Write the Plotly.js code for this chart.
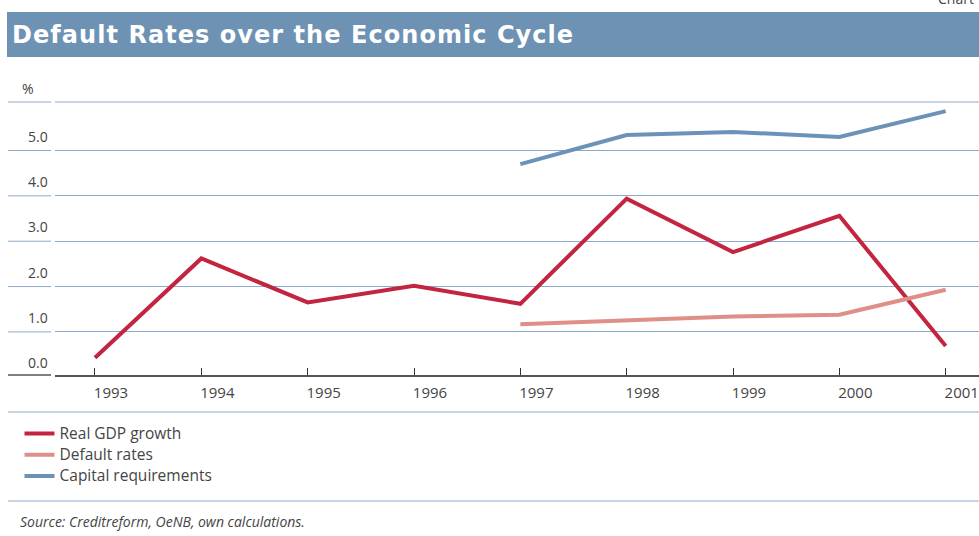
<!DOCTYPE html>
<html><head><meta charset="utf-8">
<script src="https://cdn.plot.ly/plotly-3.0.1.min.js"></script>
<style>body{margin:0;background:#fff;} #chart{width:979px;height:536px;}
.legendtext{font-size:15.5px !important;}</style>
</head><body><div id="chart"></div>
<script>
const years = [1993, 1994, 1995, 1996, 1997, 1998, 1999, 2000, 2001];
const gdpGrowth = [0.43, 2.62, 1.65, 2.02, 1.62, 3.94, 2.76, 3.56, 0.69];
const laterYears = [1997, 1998, 1999, 2000, 2001];
const defaultRates = [1.17, 1.26, 1.34, 1.38, 1.93];
const capitalRequirements = [4.70, 5.34, 5.41, 5.30, 5.87];
const yTickValues = [0, 1, 2, 3, 4, 5];
const yTickLabels = ['0.0', '1.0', '2.0', '3.0', '4.0', '5.0'];
const seriesNames = ['Real GDP growth', 'Default rates', 'Capital requirements'];
const titleText = 'Default Rates over the Economic Cycle';
const sourceText = 'Source: Creditreform, OeNB, own calculations.';

const W = 979, H = 536, L = 55, R = 0, T = 102, B = 161;
const pw = W - L - R, ph = H - T - B;
const yRange = [0.05, 6.07];
const px = x => (x - L) / pw;           // pixel x -> paper x
const py = y => (H - B - y) / ph;       // pixel y -> paper y
const vy = v => (v - yRange[0]) / (yRange[1] - yRange[0]); // value -> paper y

const gridColor = '#8eaacb';
const traces = [
  {x: years, y: gdpGrowth, name: seriesNames[0], mode: 'lines', line: {color: '#c3243f', width: 4}},
  {x: laterYears, y: defaultRates, name: seriesNames[1], mode: 'lines', line: {color: '#df8f88', width: 4}},
  {x: laterYears, y: capitalRequirements, name: seriesNames[2], mode: 'lines', line: {color: '#6c92b7', width: 4}}
];

const shapes = [
  {type: 'rect', xref: 'paper', yref: 'paper', x0: px(7), x1: 1, y0: py(57), y1: py(12), fillcolor: '#6d92b4', line: {width: 0}, layer: 'below'},
  {type: 'line', xref: 'paper', yref: 'paper', x0: 0, x1: 1, y0: 1, y1: 1, line: {color: gridColor, width: 1}},
  {type: 'line', xref: 'paper', yref: 'paper', x0: px(8), x1: px(51), y0: 1, y1: 1, line: {color: gridColor, width: 1}},
  {type: 'line', xref: 'paper', yref: 'paper', x0: px(8), x1: px(51), y0: 0, y1: 0, line: {color: '#555', width: 1.5}},
  {type: 'line', xref: 'paper', yref: 'paper', x0: px(8), x1: 1, y0: py(412), y1: py(412), line: {color: gridColor, width: 1}},
  {type: 'line', xref: 'paper', yref: 'paper', x0: px(8), x1: 1, y0: py(501), y1: py(501), line: {color: gridColor, width: 1}}
];
yTickValues.slice(1).forEach(v => shapes.push({type: 'line', xref: 'paper', yref: 'y', x0: px(8), x1: px(51), y0: v, y1: v, line: {color: gridColor, width: 1}}));

const lblFont = {family: 'Open Sans, sans-serif', size: 14, color: '#444'};
const annotations = [
  {text: '<b>' + titleText + '</b>', xref: 'paper', yref: 'paper', x: px(10), y: py(35), xanchor: 'left', yanchor: 'middle', showarrow: false,
   font: {family: 'DejaVu Sans, sans-serif', size: 24, color: '#fff'}},
  {text: 'Chart', xref: 'paper', yref: 'paper', x: px(976), y: py(-2), xanchor: 'right', yanchor: 'middle', showarrow: false, font: lblFont},
  {text: '%', xref: 'paper', yref: 'paper', x: px(28), y: 1, xanchor: 'center', yanchor: 'bottom', yshift: 2, showarrow: false, font: lblFont},
  {text: '<i>' + sourceText + '</i>', xref: 'paper', yref: 'paper', x: px(18), y: py(521), xanchor: 'left', yanchor: 'middle', showarrow: false,
   font: {family: 'Open Sans, sans-serif', size: 14, color: '#444'}}
];
yTickValues.forEach((v, i) => annotations.push({text: yTickLabels[i], xref: 'paper', yref: 'paper', x: px(50), y: vy(v), xanchor: 'right', yanchor: 'bottom', yshift: 3, showarrow: false, font: lblFont}));

const layout = {
  width: W, height: H,
  margin: {l: L, r: R, t: T, b: B},
  paper_bgcolor: '#fff', plot_bgcolor: '#fff',
  showlegend: true,
  legend: {x: px(19.5), y: py(418), xanchor: 'left', yanchor: 'top', orientation: 'v', bgcolor: 'rgba(0,0,0,0)',
           font: {family: 'Open Sans, sans-serif', size: 14, color: '#444'}, itemwidth: 30, tracegroupgap: 0},
  xaxis: {range: [1992.624, 2001.313], tickmode: 'array', tickvals: years, ticktext: years.map(String),
          ticks: 'inside', ticklen: 7, tickcolor: '#333', tickwidth: 1,
          showline: true, linecolor: '#555', linewidth: 1.5, showgrid: false, zeroline: false,
          ticklabelshift: 16, ticklabelstandoff: 3, ticklabeloverflow: 'allow',
          tickfont: {family: 'Open Sans, sans-serif', size: 15, color: '#444'}, fixedrange: true},
  yaxis: {range: yRange, tickmode: 'array', tickvals: [1, 2, 3, 4, 5], showticklabels: false,
          showgrid: true, gridcolor: gridColor, gridwidth: 1, zeroline: false, showline: false, ticks: '', fixedrange: true},
  shapes: shapes,
  annotations: annotations
};

Plotly.newPlot('chart', traces, layout, {displayModeBar: false, staticPlot: true}).then(gd => {
  gd.querySelectorAll('.annotation-text').forEach(t => {
    if (t.textContent === titleText) {
      const before = t.getBBox();
      t.style.letterSpacing = '1.05px';
      const after = t.getBBox();
      t.setAttribute('transform', 'translate(' + (before.x - after.x) + ',0)');
    }
  });
});
</script>
</body></html>
